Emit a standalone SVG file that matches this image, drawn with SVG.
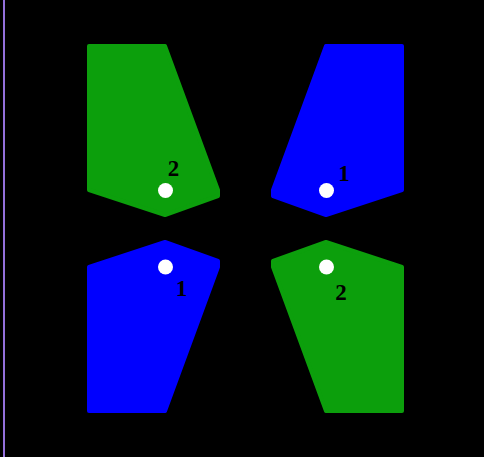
<svg xmlns="http://www.w3.org/2000/svg" width="484" height="457" viewBox="0 0 484 457">
<style>
.g{fill:#0c9f0c;stroke:#0c9f0c}
.b{fill:#0000ff;stroke:#0000ff}
.s{stroke-width:4;stroke-linejoin:round}
.dot{fill:#ffffff}
.lbl{font-family:"Liberation Serif","Times New Roman",serif;font-weight:bold;font-size:23px;fill:#000000;text-anchor:middle}
</style>
<rect x="0" y="0" width="484" height="457" fill="#000000"/>
<rect x="3" y="0" width="2" height="457" fill="#9370db"/>
<g id="top-left">
<polygon class="g s" points="89,46 165,46 218,190 218,196 165,215 89,190"/>
<circle class="dot" cx="165.5" cy="190.5" r="7.5"/>
<text class="lbl" x="173.5" y="176">2</text>
</g>
<g id="top-right">
<polygon class="b s" points="402,46 326,46 273,190 273,196 326,215 402,190"/>
<circle class="dot" cx="326.5" cy="190.5" r="7.5"/>
<text class="lbl" x="344" y="181">1</text>
</g>
<g id="bottom-left">
<polygon class="b s" points="89,411 165,411 218,267 218,261 165,242 89,267"/>
<circle class="dot" cx="165.5" cy="267" r="7.5"/>
<text class="lbl" x="181.5" y="296">1</text>
</g>
<g id="bottom-right">
<polygon class="g s" points="402,411 326,411 273,267 273,261 326,242 402,267"/>
<circle class="dot" cx="326.5" cy="267" r="7.5"/>
<text class="lbl" x="341" y="300">2</text>
</g>
<g id="connectors"></g>
</svg>
